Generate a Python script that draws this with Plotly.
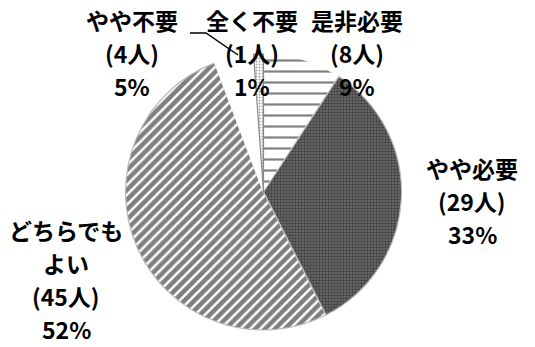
import plotly.graph_objects as go

W, H = 535, 347

# ---- data ----
categories = ["是非必要", "やや必要", "どちらでもよい", "やや不要", "全く不要"]
counts = [8, 29, 45, 4, 1]
display_labels = [["是非必要"], ["やや必要"], ["どちらでも", "よい"], ["やや不要"], ["全く不要"]]

# ---- styles / positions (screen pixels) ----
label_anchor = [(357, 20), (472, 168), (66, 230), (132, 20), (252, 20)]
line_gap = 33
font = dict(family="Noto Sans CJK JP", size=23, color="black", weight="bold")

pie_cx, pie_cy, pie_r = 263.5, 192, 138


def px(x):
    return x / W


def py(y):
    return 1 - y / H


total = sum(counts)
pcts = [round(c / total * 100) for c in counts]

fig = go.Figure()
fig.add_trace(go.Pie(
    labels=categories,
    values=counts,
    sort=False,
    direction="clockwise",
    rotation=0,
    textinfo="none",
    hoverinfo="label+value+percent",
    showlegend=False,
    domain=dict(x=[px(pie_cx - pie_r), px(pie_cx + pie_r)],
                y=[py(pie_cy + pie_r), py(pie_cy - pie_r)]),
    marker=dict(
        colors=["white", "#4a4a4a", "white", "white", "white"],
        line=dict(color=["white", "#bdbdbd", "#bdbdbd", "white", "#888888"], width=1.2),
        pattern=dict(
            shape=["-", ".", "/", "", "."],
            fgcolor=["black", "#111111", "black", "white", "#444444"],
            bgcolor=["white", "#6e6e6e", "white", "white", "white"],
            size=[11, 3, 7, 8, 3],
            solidity=[0.2, 0.5, 0.65, 0.3, 0.35],
            fillmode="overlay",
        ),
    ),
))

annotations = []
for lines, cnt, pct, (ax, ay) in zip(display_labels, counts, pcts, label_anchor):
    all_lines = lines + [f"({cnt}人)", f"{pct}%"]
    for i, t in enumerate(all_lines):
        annotations.append(dict(
            x=px(ax), y=py(ay + i * line_gap), xref="paper", yref="paper",
            text=t, showarrow=False, font=font, borderpad=0,
            xanchor="center", yanchor="middle",
        ))

# leader line for 全く不要
path = f"M {px(190)},{py(33)} L {px(206)},{py(33)} L {px(238)},{py(55)}"
fig.update_layout(
    width=W, height=H,
    margin=dict(l=0, r=0, t=0, b=0),
    paper_bgcolor="white",
    plot_bgcolor="white",
    annotations=annotations,
    shapes=[dict(type="path", path=path, xref="paper", yref="paper",
                 line=dict(color="black", width=1.5))],
)

fig.write_html(
    "out.html",
    config={"displayModeBar": False},
    post_script="document.body.style.margin='0';document.body.style.overflow='hidden';",
)
